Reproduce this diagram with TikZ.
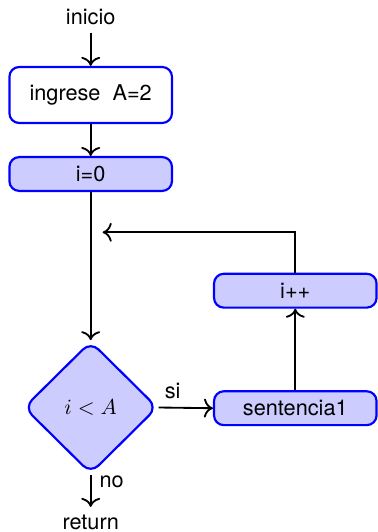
\documentclass[tikz,border=0pt]{standalone}
\usepackage{fontspec}
\setmainfont{TeX Gyre Heros}
\usetikzlibrary{shapes.geometric,arrows.meta}
\begin{document}
\begin{tikzpicture}[x=0.4608pt,y=-0.4608pt]
\tikzset{
 blk/.style={rectangle, draw=blue, line width=1pt, rounded corners=4.5pt, minimum width=74.9pt, inner sep=0pt, align=center, font=\fontsize{10}{12}\selectfont},
 blkw/.style={blk, fill=white, minimum height=25.8pt},
 blkf/.style={blk, fill=blue!20, minimum height=15.6pt},
 dec/.style={diamond, draw=blue, fill=blue!20, line width=1pt, rounded corners=5pt, minimum width=61.6pt, minimum height=61pt, inner sep=0pt},
 lbl/.style={font=\fontsize{10}{12}\selectfont},
 conn/.style={draw=black, line width=0.85pt, -{To[scale=1.2]}},
}
\useasboundingbox (0,0) rectangle (378,532);
\node[lbl] (inicio) at (90.7,17) {inicio};
\node[blkw] (ingrese) at (90.7,95) {ingrese\ \ A=2};
\node[blkf] (i0) at (90.7,174) {i=0};
\node[dec] (dec) at (90.7,407.5) {$i<A$};
\node[blkf] (sent) at (295.3,408.2) {sentencia1};
\node[blkf] (ipp) at (295.3,290.7) {i++};
\node[lbl] (ret) at (90.7,522) {return};
\node[lbl, inner sep=0pt] (si) at (172.7,390.7) {si};
\node[lbl, inner sep=0pt] (no) at (111.7,482) {no};
\coordinate (fb) at (102.7,232.3);
\draw[conn] (inicio) -- (ingrese);
\draw[conn] (ingrese) -- (i0);
\draw[conn] (i0.south) -- (dec.north);
\draw[conn] (dec.east) -- (sent.west);
\draw[conn] (sent.north) -- (ipp.south);
\draw[conn] (ipp.north) |- (fb);
\draw[conn] (dec.south) -- (ret);
\end{tikzpicture}
\end{document}
